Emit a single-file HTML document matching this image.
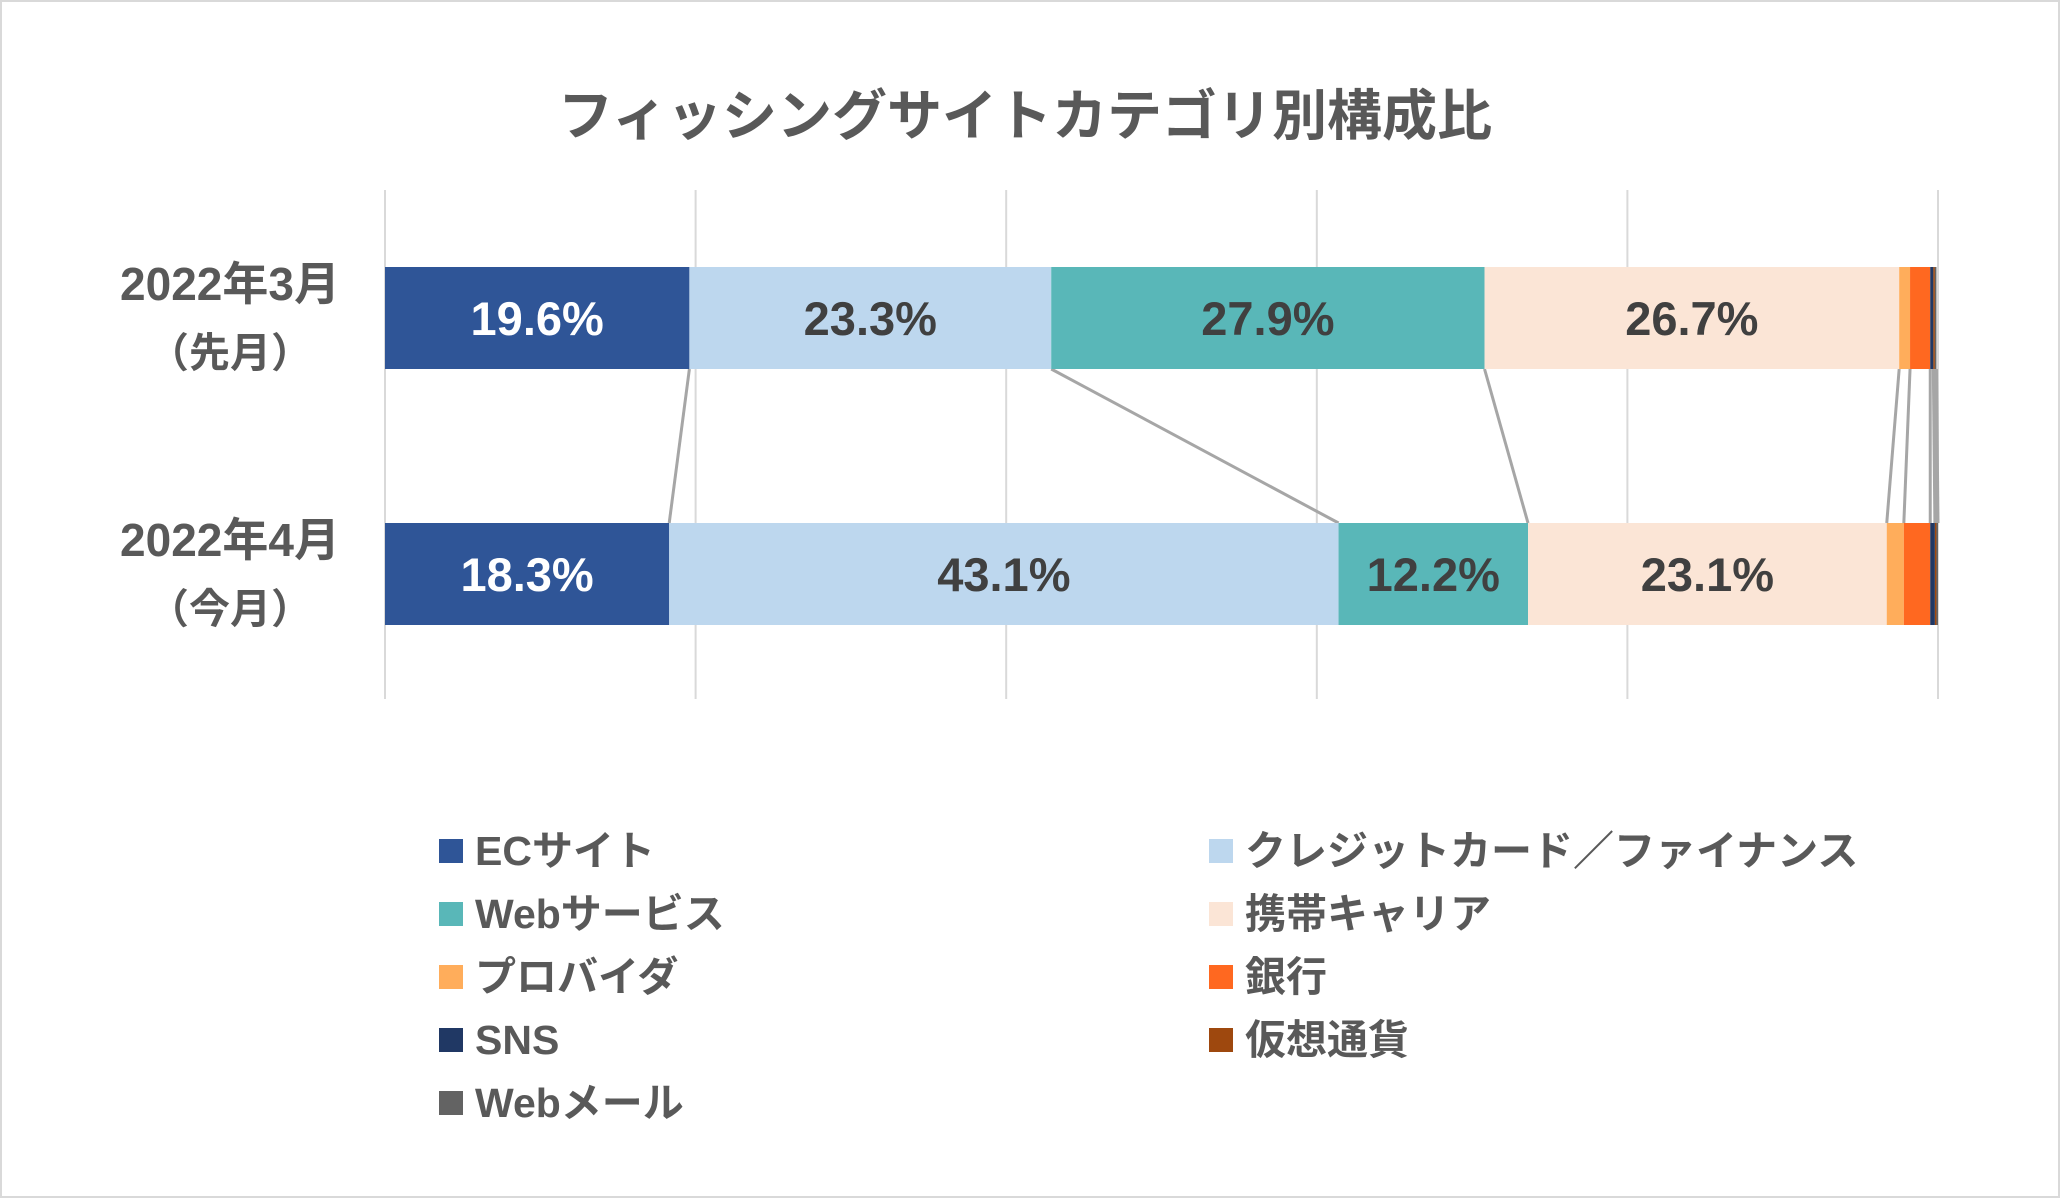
<!DOCTYPE html>
<html><head><meta charset="utf-8">
<style>
html,body{margin:0;padding:0;background:#fff;}
svg{display:block;}
text{font-family:"Liberation Sans","Noto Sans CJK JP",sans-serif;font-weight:bold;}
</style></head>
<body>
<svg id="chart" width="2060" height="1198" xmlns="http://www.w3.org/2000/svg">
<rect x="1" y="1" width="2058" height="1196" fill="#fff" stroke="#d9d9d9" stroke-width="2"/>
<text x="1025" y="135" text-anchor="middle" font-size="55" fill="#595959">フィッシングサイトカテゴリ別構成比</text>
<g id="grid"></g>
<g id="connectors"></g>
<g id="bars"></g>
<g id="labels"></g>
<g id="legend"></g>
</svg>
<script>
const categories = [["2022年3月","（先月）"],["2022年4月","（今月）"]];
const seriesNames = ["ECサイト","クレジットカード／ファイナンス","Webサービス","携帯キャリア","プロバイダ","銀行","SNS","仮想通貨","Webメール"];
const march = [19.6,23.3,27.9,26.7,0.7,1.3,0.2,0.1,0.1];
const april = [18.3,43.1,12.2,23.1,1.1,1.7,0.3,0.1,0.1];
const valueLabels = [["19.6%","23.3%","27.9%","26.7%","","","","",""],["18.3%","43.1%","12.2%","23.1%","","","","",""]];
const xTicks = [0,20,40,60,80,100];

const colors = ["#2f5597","#bdd7ee","#59b7b8","#fbe5d6","#ffad5b","#ff6820","#203864","#9e480e","#636363"];
const labelColors = ["#ffffff","#404040","#404040","#404040"];
const data = [march, april];
const NS = "http://www.w3.org/2000/svg";
const x0 = 385, x1 = 1938;
const xs = v => x0 + (x1 - x0) * v / 100;
const barTop = i => [267, 523][i];
const barH = 102;
function mk(tag, attrs, parent){const e=document.createElementNS(NS,tag);for(const k in attrs)e.setAttribute(k,attrs[k]);parent.appendChild(e);return e;}

const grid = document.getElementById('grid');
xTicks.forEach(t=>{
  const l = mk('line',{x1:xs(t),x2:xs(t),y1:190,y2:699,stroke:'#d9d9d9','stroke-width':2},grid);
  
  
});

const bars = document.getElementById('bars');
const labels = document.getElementById('labels');
const cums = [];
data.forEach((vals,i)=>{
  let c = 0; const cum=[];
  vals.forEach((v,j)=>{
    const r = mk('rect',{x:xs(c),y:barTop(i),width:Math.max(0,xs(c+v)-xs(c)),height:barH,fill:colors[j]},bars);
    
    
    if(valueLabels[i][j]){
      const t = mk('text',{x:(xs(c)+xs(c+v))/2,y:barTop(i)+barH/2+17,'text-anchor':'middle','font-size':47,fill:labelColors[j]},labels);
      t.textContent = valueLabels[i][j];
      
      
    }
    c += v; cum.push(c);
  });
  cums.push(cum);
  const a = mk('text',{x:230,y:barTop(i)+33,'text-anchor':'middle','font-size':46,fill:'#595959'},labels);
  a.textContent = categories[i][0];
  
  
  const b = mk('text',{x:230,y:barTop(i)+100,'text-anchor':'middle','font-size':41,fill:'#595959'},labels);
  b.textContent = categories[i][1];
  
  
});
const conn = document.getElementById('connectors');
for(let j=0;j<seriesNames.length;j++){
  const l = mk('line',{x1:xs(Math.min(cums[0][j],100)),y1:barTop(0)+barH,x2:xs(Math.min(cums[1][j],100)),y2:barTop(1),stroke:'#a6a6a6','stroke-width':3},conn);
  
  
}

const legend = document.getElementById('legend');
seriesNames.forEach((n,j)=>{
  const col = j%2, row = Math.floor(j/2);
  const cy = 851 + row*63;
  const sx = col ? 1209 : 439;
  const g = mk('g',{},legend);
  
  
  mk('rect',{x:sx,y:cy-12,width:24,height:24,fill:colors[j]},g);
  const t = mk('text',{x:sx+36,y:cy+14,'font-size':41,fill:'#595959'},g);
  t.textContent = n;
});
</script>
</body></html>
